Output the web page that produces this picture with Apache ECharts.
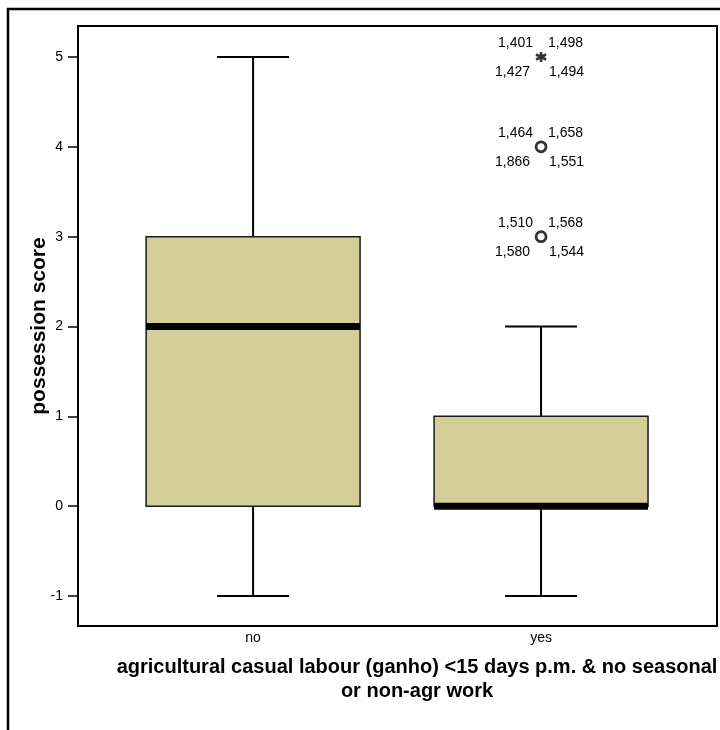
<!DOCTYPE html>
<html>
<head>
<meta charset="utf-8">
<script src="https://cdn.jsdelivr.net/npm/echarts@6/dist/echarts.min.js"></script>
<style>html,body{margin:0;padding:0;background:#fff}#c{width:720px;height:730px}</style>
</head>
<body>
<div id="c"></div>
<script>
// ---- data ----
const categories = ['no', 'yes'];
const whiskerLow = [-1, -1];
const quartile1 = [0, 0];
const medians = [2, 0];
const quartile3 = [3, 1];
const whiskerHigh = [5, 2];
// outliers (only in "yes" group)
const outlierGroup = [2, 2];
const outlierValues = [3, 4];
const extremeGroup = [2];
const extremeValues = [5];
// case labels around each outlier point: [top-left, top-right, bottom-left, bottom-right]
const outlierCaseLabels = [
  ['1,510', '1,568', '1,580', '1,544'],
  ['1,464', '1,658', '1,866', '1,551']
];
const extremeCaseLabels = [
  ['1,401', '1,498', '1,427', '1,494']
];
const yTicks = [-1, 0, 1, 2, 3, 4, 5];
const xTicks = [1, 2];
const yTitle = 'possession score';
const xTitle = 'agricultural casual labour (ganho) <15 days p.m. & no seasonal\nor non-agr work';

// ---- chart ----
const BOX_W = 0.743, CAP_W = 0.25;
const FONT = '"Liberation Sans", Arial, sans-serif';
const boxData = categories.map((c, i) => [i + 1, whiskerLow[i], quartile1[i], medians[i], quartile3[i], whiskerHigh[i]]);
const outlierData = outlierValues.map((v, i) => [outlierGroup[i], v, i]);
const extremeData = extremeValues.map((v, i) => [extremeGroup[i], v, i]);

function boxRender(params, api) {
  const x = api.value(0);
  const lo = api.coord([x, api.value(1)]);
  const q1 = api.coord([x, api.value(2)]);
  const md = api.coord([x, api.value(3)]);
  const q3 = api.coord([x, api.value(4)]);
  const hi = api.coord([x, api.value(5)]);
  const bw = api.size([BOX_W, 0])[0];
  const cw = api.size([CAP_W, 0])[0];
  const cx = lo[0];
  const line = (x1, y1, x2, y2, w) => ({type: 'line', shape: {x1, y1, x2, y2}, style: {stroke: '#000', lineWidth: w}});
  return {
    type: 'group',
    children: [
      line(cx, lo[1], cx, q1[1], 2),
      line(cx, q3[1], cx, hi[1], 2),
      line(cx - cw / 2, lo[1], cx + cw / 2, lo[1], 2),
      line(cx - cw / 2, hi[1], cx + cw / 2, hi[1], 2),
      {type: 'rect', shape: {x: cx - bw / 2, y: q3[1], width: bw, height: q1[1] - q3[1]},
        style: {fill: '#d3ce97', stroke: '#1a1a1a', lineWidth: 1.5}},
      {type: 'rect', shape: {x: cx - bw / 2, y: md[1] - 3.5, width: bw, height: 7},
        style: {fill: '#000'}}
    ]
  };
}

function labelRender(labels) {
  return function (params, api) {
    const p = api.coord([api.value(0), api.value(1)]);
    const L = labels[api.value(2)];
    const st = (text, dx, dy, align) => ({type: 'text', x: p[0] + dx, y: p[1] + dy,
      style: {text, fill: '#000', font: '14px ' + FONT, align, verticalAlign: 'middle'}});
    return {type: 'group', children: [
      st(L[0], -8, -14, 'right'),
      st(L[1], 7, -14, 'left'),
      st(L[2], -11, 15, 'right'),
      st(L[3], 8, 15, 'left')
    ]};
  };
}

const chart = echarts.init(document.getElementById('c'), null, {renderer: 'canvas'});
chart.setOption({
  animation: false,
  backgroundColor: '#fff',
  grid: {left: 78, top: 26, right: 3, bottom: 104, show: true, borderColor: '#000', borderWidth: 2, backgroundColor: 'transparent'},
  xAxis: {
    type: 'value', min: 0.392, max: 2.611,
    splitLine: {show: false}, axisLine: {show: false}, axisTick: {show: false},
    axisLabel: {customValues: xTicks, formatter: v => categories[Math.round(v) - 1] || '', color: '#000',
      fontSize: 14, fontFamily: FONT, margin: 5}
  },
  yAxis: {
    type: 'value', min: -1.334, max: 5.345,
    name: yTitle, nameLocation: 'middle', nameGap: 28, nameMoveOverlap: false,
    nameTextStyle: {fontSize: 21, fontWeight: 'bold', color: '#000', fontFamily: FONT},
    splitLine: {show: false}, axisLine: {show: false},
    axisTick: {show: true, customValues: yTicks, length: 10, lineStyle: {color: '#000', width: 1.5}},
    axisLabel: {customValues: yTicks, color: '#000', fontSize: 14, margin: 15, fontFamily: FONT}
  },
  graphic: [
    {type: 'rect', shape: {x: 8, y: 9, width: 800, height: 800}, style: {fill: 'none', stroke: '#000', lineWidth: 2.5}, z: 100},
    {type: 'text', x: 417, y: 655, style: {text: xTitle, textAlign: 'center', textVerticalAlign: 'top',
      font: 'bold 20px ' + FONT, fill: '#000', lineHeight: 24}}
  ],
  series: [
    {type: 'custom', renderItem: boxRender, data: boxData, encode: {x: 0, y: [1, 5]}, z: 2},
    {type: 'scatter', data: outlierData, symbol: 'circle', symbolSize: 10,
      itemStyle: {color: '#fff', borderColor: '#000', borderWidth: 2.8}, z: 5},
    {type: 'scatter', data: extremeData,
      symbol: 'path://M0,-6L0,6M-5.2,-3L5.2,3M-5.2,3L5.2,-3', symbolSize: 10,
      itemStyle: {color: 'none', borderColor: '#000', borderWidth: 2.6}, z: 5},
    {type: 'custom', renderItem: labelRender(outlierCaseLabels), data: outlierData, encode: {x: 0, y: 1}, z: 4},
    {type: 'custom', renderItem: labelRender(extremeCaseLabels), data: extremeData, encode: {x: 0, y: 1}, z: 4}
  ]
});
</script>
</body>
</html>
